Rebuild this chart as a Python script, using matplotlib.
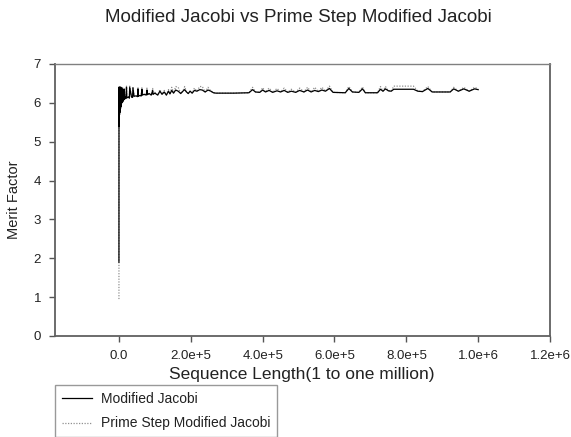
import numpy as np
import matplotlib
matplotlib.use('Agg')
import matplotlib.pyplot as plt

plt.rcParams['font.family'] = ['Liberation Sans', 'DejaVu Sans']

# Merit factor vs sequence length
seq_len = [
    1, 60, 150, 300, 450, 600, 800, 1000, 1300, 1600,
    2000, 2400, 2800, 3300, 3800, 4300, 4900, 5500, 6100, 6800,
    7500, 8300, 9100, 10000, 11000, 12000, 13000, 14000, 15000, 16500,
    18000, 20000, 21000, 22000, 27000, 29000, 30000, 35000, 38000, 39000,
    42000, 48000, 52000, 53000, 54000, 58000, 62000, 64000, 65000, 70000,
    76000, 78000, 79000, 84000, 90000, 94000, 95000, 100000, 108000, 114000,
    120000, 126000, 132000, 138000, 142000, 147000, 152000, 158000, 165000, 172000,
    178000, 183000, 188000, 193000, 198000, 204000, 210000, 217000, 225000, 232000,
    240000, 248000, 256000, 263000, 270000, 280000, 320000, 362000, 372000, 380000,
    392000, 400000, 408000, 418000, 428000, 440000, 450000, 460000, 470000, 480000,
    492000, 503000, 515000, 525000, 535000, 545000, 555000, 565000, 575000, 586000,
    596000, 630000, 640000, 650000, 668000, 678000, 686000, 720000, 728000, 735000,
    742000, 750000, 758000, 765000, 820000, 832000, 845000, 860000, 872000, 922000,
    932000, 945000, 960000, 975000, 990000, 1000000]

merit_mj = [
    1.90, 5.20, 6.35, 5.40, 6.40, 5.50, 6.35, 5.60, 6.40, 5.70,
    6.35, 5.75, 6.40, 5.80, 6.35, 5.85, 6.40, 5.90, 6.35, 5.95,
    6.38, 6.00, 6.35, 6.02, 6.35, 6.05, 6.30, 6.08, 6.35, 6.10,
    6.15, 6.12, 6.40, 6.13, 6.15, 6.12, 6.40, 6.15, 6.14, 6.38,
    6.17, 6.18, 6.16, 6.36, 6.17, 6.19, 6.18, 6.35, 6.20, 6.22,
    6.20, 6.33, 6.21, 6.24, 6.20, 6.32, 6.22, 6.25, 6.20, 6.30,
    6.22, 6.28, 6.20, 6.30, 6.23, 6.32, 6.25, 6.33, 6.30, 6.24,
    6.30, 6.34, 6.28, 6.24, 6.30, 6.25, 6.32, 6.30, 6.34, 6.33,
    6.28, 6.33, 6.30, 6.26, 6.25, 6.25, 6.25, 6.26, 6.34, 6.28,
    6.27, 6.33, 6.28, 6.32, 6.27, 6.31, 6.28, 6.32, 6.27, 6.30,
    6.27, 6.32, 6.28, 6.33, 6.28, 6.32, 6.29, 6.33, 6.30, 6.37,
    6.27, 6.26, 6.37, 6.28, 6.27, 6.36, 6.26, 6.26, 6.35, 6.30,
    6.36, 6.31, 6.30, 6.35, 6.35, 6.30, 6.29, 6.37, 6.28, 6.28,
    6.36, 6.30, 6.36, 6.30, 6.36, 6.34]

merit_ps = [
    0.95, 5.20, 6.38, 5.40, 6.42, 5.50, 6.38, 5.60, 6.42, 5.70,
    6.38, 5.75, 6.42, 5.80, 6.38, 5.85, 6.42, 5.90, 6.38, 5.95,
    6.40, 6.00, 6.38, 6.02, 6.38, 6.05, 6.33, 6.08, 6.38, 6.10,
    6.15, 6.12, 6.43, 6.13, 6.15, 6.12, 6.43, 6.15, 6.14, 6.42,
    6.17, 6.18, 6.16, 6.40, 6.17, 6.19, 6.18, 6.40, 6.20, 6.22,
    6.20, 6.38, 6.21, 6.24, 6.20, 6.37, 6.22, 6.27, 6.20, 6.34,
    6.22, 6.32, 6.20, 6.34, 6.23, 6.40, 6.25, 6.42, 6.40, 6.24,
    6.30, 6.42, 6.28, 6.24, 6.30, 6.25, 6.38, 6.30, 6.42, 6.42,
    6.28, 6.40, 6.30, 6.26, 6.25, 6.25, 6.25, 6.26, 6.40, 6.28,
    6.27, 6.39, 6.28, 6.38, 6.27, 6.37, 6.28, 6.38, 6.27, 6.35,
    6.27, 6.38, 6.28, 6.40, 6.28, 6.40, 6.29, 6.40, 6.30, 6.43,
    6.27, 6.26, 6.42, 6.28, 6.27, 6.41, 6.26, 6.26, 6.42, 6.30,
    6.42, 6.31, 6.30, 6.43, 6.43, 6.30, 6.29, 6.42, 6.28, 6.28,
    6.40, 6.30, 6.40, 6.30, 6.40, 6.36]

x_ticks = [0, 2e5, 4e5, 6e5, 8e5, 1e6, 1.2e6]
x_tick_labels = ['0.0', '2.0e+5', '4.0e+5', '6.0e+5', '8.0e+5', '1.0e+6', '1.2e+6']
y_ticks = [0, 1, 2, 3, 4, 5, 6, 7]

W, H = 571, 437
fig = plt.figure(figsize=(W / 100, H / 100), dpi=100)
ax = fig.add_axes([55 / W, 1 - 336 / H, (550 - 55) / W, (336 - 64) / H])

# solid line on top so the dense start stays black
ax.plot(seq_len, merit_mj, color='black', lw=0.9, label='Modified Jacobi', zorder=3)
ax.plot(seq_len, merit_ps, color='#909090', lw=0.9, ls=(0, (1, 1.2)),
        label='Prime Step Modified Jacobi', zorder=2)

ax.set_xlim(-1.78e5, 1.2e6)
ax.set_ylim(0, 7)
ax.set_xticks(x_ticks)
ax.set_xticklabels(x_tick_labels)
ax.set_yticks(y_ticks)
ax.tick_params(direction='out', length=4, width=1, color='#555555',
               labelsize=9.5, pad=6, labelcolor='#222222')

for side in ['left', 'bottom', 'right']:
    ax.spines[side].set_color('#606060')
    ax.spines[side].set_linewidth(1.3)
ax.spines['top'].set_color('#808080')
ax.spines['top'].set_linewidth(1.0)

fig.text(298 / W, 1 - 17 / H, 'Modified Jacobi vs Prime Step Modified Jacobi',
         ha='center', va='center', fontsize=13.5, color='#222222')
fig.text(302 / W, 1 - 375 / H, 'Sequence Length(1 to one million)',
         ha='center', va='center', fontsize=12.5, color='#222222')
fig.text(14 / W, 1 - 200 / H, 'Merit Factor', rotation=90,
         ha='center', va='center', fontsize=10.5, color='#222222')

leg = fig.legend(loc='upper left', bbox_to_anchor=(55 / W, 1 - 385 / H),
                 fontsize=10, frameon=True, fancybox=False, borderpad=0.5,
                 handlelength=2.2, handletextpad=0.6, labelspacing=0.75,
                 borderaxespad=0)
leg.get_frame().set_edgecolor('#808080')
leg.get_frame().set_linewidth(1.0)
for t in leg.get_texts():
    t.set_color('#222222')

fig.savefig('out.png', dpi=100)
